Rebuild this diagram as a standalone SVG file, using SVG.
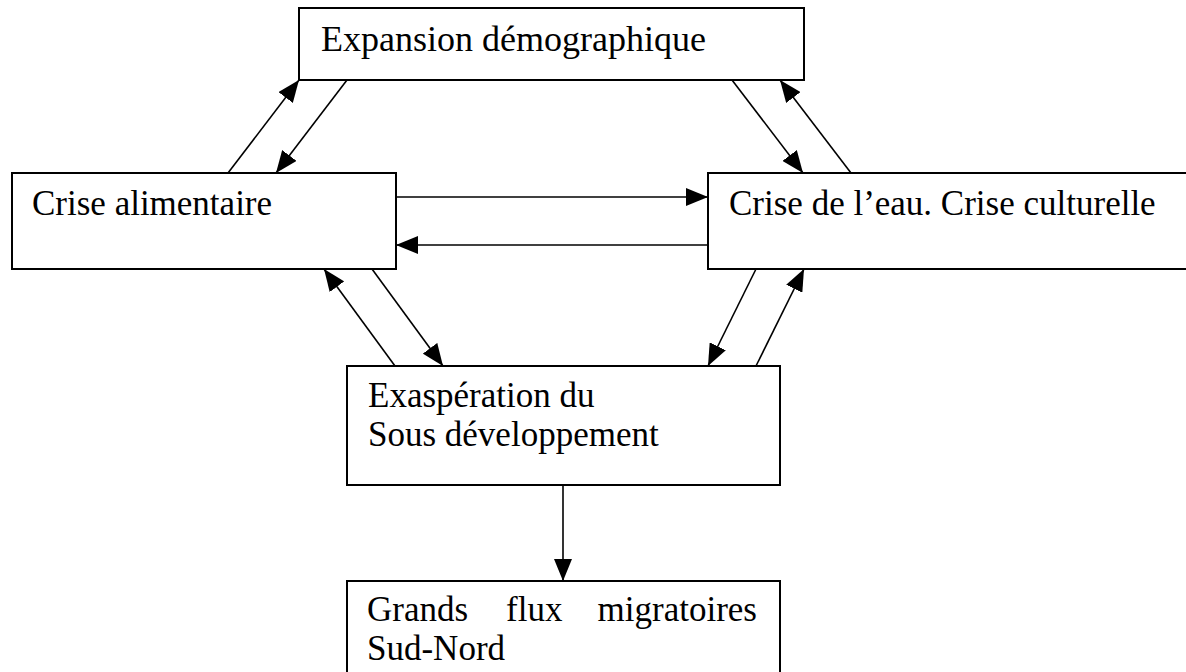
<svg xmlns="http://www.w3.org/2000/svg" width="1186" height="672" viewBox="0 0 1186 672">
<style>
.box{fill:#fff;stroke:#000;stroke-width:2}
.lbl{font-family:"Liberation Serif","Times New Roman",serif;font-size:35px;fill:#000}
.edge{stroke:#000;stroke-width:1.6;fill:none;marker-end:url(#ah)}
</style>
<defs>
<marker id="ah" markerUnits="userSpaceOnUse" markerWidth="22" markerHeight="18" refX="22" refY="9" orient="auto">
<path d="M0,0 L22,9 L0,18 z" fill="#000"/>
</marker>
</defs>
<rect width="1186" height="672" fill="#fff"/>
<g id="n-expansion">
<rect class="box" x="299" y="8" width="505" height="72"/>
<text class="lbl" x="321" y="51" textLength="385" lengthAdjust="spacingAndGlyphs">Expansion démographique</text>
</g>
<g id="n-alimentaire">
<rect class="box" x="12" y="173" width="384" height="96"/>
<text class="lbl" x="32" y="215">Crise alimentaire</text>
</g>
<g id="n-eau">
<rect class="box" x="708" y="173" width="500" height="96"/>
<text class="lbl" x="729" y="215">Crise de l’eau. Crise culturelle</text>
</g>
<g id="n-exasperation">
<rect class="box" x="347" y="366" width="433" height="119"/>
<text class="lbl" x="368" y="407">Exaspération du</text>
<text class="lbl" x="368" y="446">Sous développement</text>
</g>
<g id="n-flux">
<rect class="box" x="347" y="581" width="433" height="120"/>
<text class="lbl" x="367" y="621">Grands</text>
<text class="lbl" x="506" y="621">flux</text>
<text class="lbl" x="757" y="621" text-anchor="end">migratoires</text>
<text class="lbl" x="367" y="660">Sud-Nord</text>
</g>
<g id="connectors">
<line class="edge" x1="228" y1="173" x2="299" y2="80"/>
<line class="edge" x1="347" y1="80" x2="276" y2="173"/>
<line class="edge" x1="732" y1="80" x2="803" y2="173"/>
<line class="edge" x1="851" y1="173" x2="780" y2="80"/>
<line class="edge" x1="396" y1="197" x2="708" y2="197"/>
<line class="edge" x1="708" y1="245" x2="396" y2="245"/>
<line class="edge" x1="395" y1="366" x2="324" y2="269"/>
<line class="edge" x1="372" y1="269" x2="443" y2="366"/>
<line class="edge" x1="756" y1="269" x2="708" y2="366"/>
<line class="edge" x1="756" y1="366" x2="804" y2="269"/>
<line class="edge" x1="563" y1="485" x2="563" y2="581"/>
</g>
</svg>
